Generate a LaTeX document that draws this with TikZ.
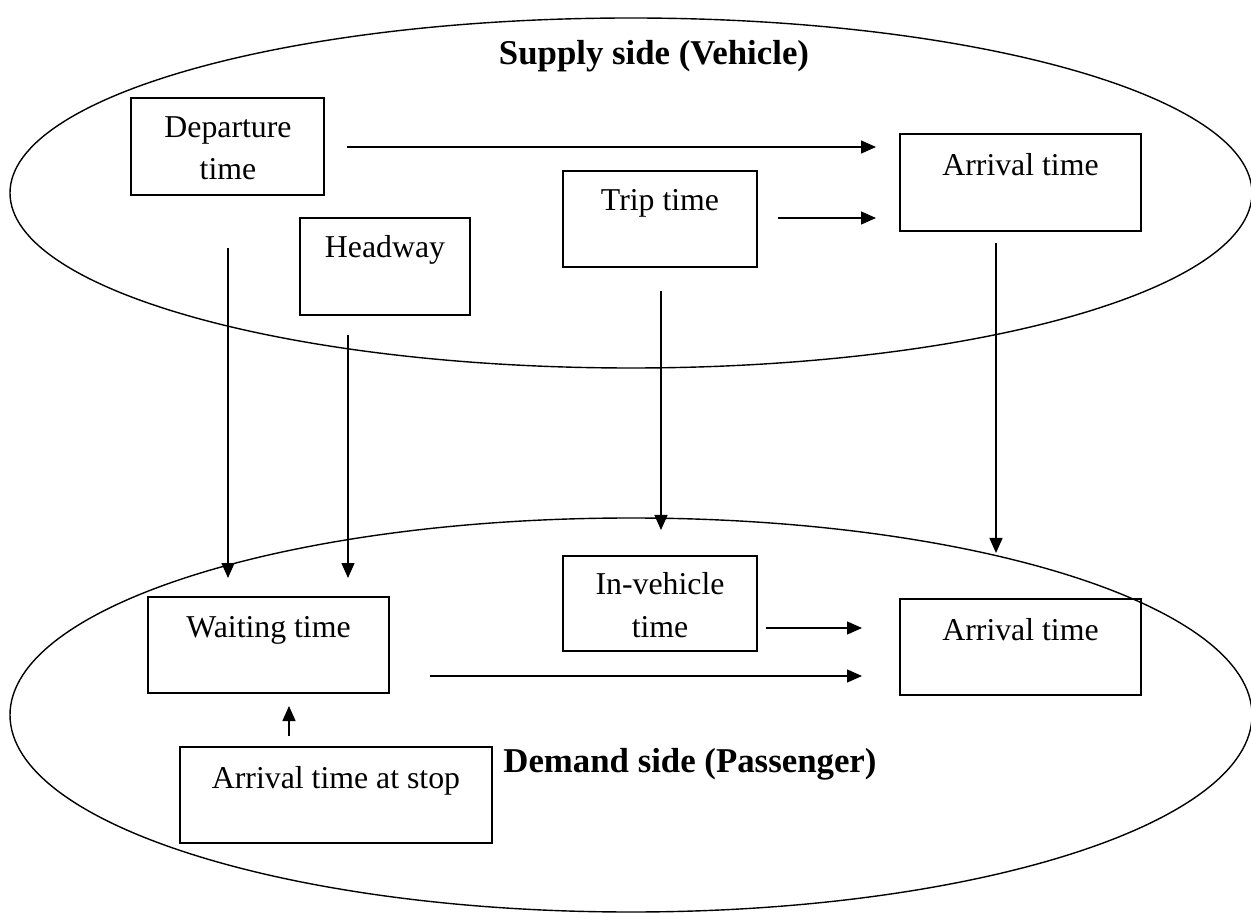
\documentclass[tikz,border=0pt]{standalone}
\usepackage{fontspec}
\setmainfont{Liberation Serif}
\usetikzlibrary{arrows.meta,fit}

\begin{document}
\begin{tikzpicture}[
  x=0.5pt, y=-0.5pt,
  box/.style={draw, line width=0.9pt, inner sep=0pt, fit={#1}},
  txt/.style={anchor=base, inner sep=0pt, font=\fontsize{15.9}{21}\selectfont},
  head/.style={anchor=base, inner sep=0pt, font=\fontsize{17.4}{21}\selectfont\bfseries},
  flow/.style={line width=0.7pt, -{Triangle[length=7.5pt,width=6.5pt]}},
  region/.style={line width=0.7pt}
]
\useasboundingbox (0,0) rectangle (1251,913);

% the two regions
\draw[region] (631,193) ellipse [x radius=310.5pt, y radius=87.5pt];
\draw[region] (631,715) ellipse [x radius=310.5pt, y radius=98.5pt];

\node[head] (supply) at (654,65) {Supply side (Vehicle)};
\node[head, anchor=base west] (demand) at (503,772) {Demand side (Passenger)};

% supply side boxes
\node[box={(131,98) (324,195)}] (dep) {};
\node[txt] (deptxt1) at (228,138) {Departure};
\node[txt] (deptxt2) at (228,180) {time};

\node[box={(300,218) (470,315)}] (hw) {};
\node[txt] (hwtxt) at (385,258) {Headway};

\node[box={(563,171) (757,267)}] (trip) {};
\node[txt] (triptxt) at (660,211) {Trip time};

\node[box={(900,134) (1141,231)}] (arrV) {};
\node[txt] (arrVtxt) at (1020.5,176) {Arrival time};

% demand side boxes
\node[box={(148,597) (389,693)}] (wait) {};
\node[txt] (waittxt) at (268.5,637) {Waiting time};

\node[box={(180,747) (492,843)}] (stop) {};
\node[txt] (stoptxt) at (336,788) {Arrival time at stop};

\node[box={(563,556) (757,651)}] (inv) {};
\node[txt] (invtxt1) at (660,595) {In-vehicle};
\node[txt] (invtxt2) at (660,637) {time};

\node[box={(900,599) (1141,695)}] (arrP) {};
\node[txt] (arrPtxt) at (1020.5,640) {Arrival time};

% free ends of the connectors
\coordinate (a1s) at (347,147);  \coordinate (a1e) at (876,147);
\coordinate (a2s) at (778,218);  \coordinate (a2e) at (876,218);
\coordinate (a3s) at (228,248);  \coordinate (a3e) at (228,578);
\coordinate (a4s) at (348,335);  \coordinate (a4e) at (348,578);
\coordinate (a5s) at (661,291);  \coordinate (a5e) at (661,530);
\coordinate (a6s) at (996,243);  \coordinate (a6e) at (996,553);
\coordinate (a7s) at (289,736);  \coordinate (a7e) at (289,706);
\coordinate (a8s) at (766,628);  \coordinate (a8e) at (862,628);
\coordinate (a9s) at (430,676);  \coordinate (a9e) at (862,676);

\draw[flow] (a1s) -- (a1e);
\draw[flow] (a2s) -- (a2e);
\draw[flow] (a3s) -- (a3e);
\draw[flow] (a4s) -- (a4e);
\draw[flow] (a5s) -- (a5e);
\draw[flow] (a6s) -- (a6e);
\draw[flow] (a7s) -- (a7e);
\draw[flow] (a8s) -- (a8e);
\draw[flow] (a9s) -- (a9e);
\end{tikzpicture}
\end{document}
